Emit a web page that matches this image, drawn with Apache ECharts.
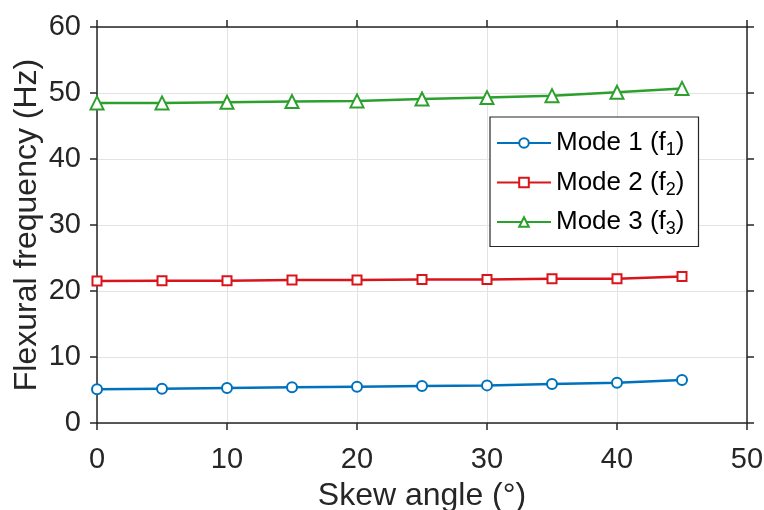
<!DOCTYPE html>
<html>
<head>
<meta charset="utf-8">
<script src="https://cdn.jsdelivr.net/npm/echarts@6/dist/echarts.min.js"></script>
<style>html,body{margin:0;padding:0;background:#fff}#c{width:764px;height:510px}</style>
</head>
<body>
<div id="c"></div>
<script>
const skewAngles = [0, 5, 10, 15, 20, 25, 30, 35, 40, 45];
const mode1 = [5.1, 5.2, 5.3, 5.4, 5.5, 5.6, 5.7, 5.9, 6.1, 6.5];
const mode2 = [21.5, 21.55, 21.55, 21.65, 21.65, 21.75, 21.75, 21.85, 21.85, 22.2];
const mode3 = [48.5, 48.5, 48.6, 48.7, 48.8, 49.1, 49.3, 49.6, 50.1, 50.7];
const seriesNames = ['Mode 1 (f1)', 'Mode 2 (f2)', 'Mode 3 (f3)'];
const xTicks = {min: 0, max: 50, interval: 10};
const yTicks = {min: 0, max: 60, interval: 10};

const FONT = 'Liberation Sans, Arial, sans-serif';
const AX = '#262626';
const colors = ['#0072BD', '#D9151B', '#2CA02C'];
const symbols = ['emptyCircle', 'emptyRect', 'emptyTriangle'];
const sizes = [10, 9, 13];
const datas = [mode1, mode2, mode3];

const chart = echarts.init(document.getElementById('c'));
const mkAxis = (t, extra) => Object.assign({
  type: 'value', min: t.min, max: t.max, interval: t.interval,
  axisLine: {show: true, onZero: false, lineStyle: {color: AX, width: 1.5}},
  axisTick: {show: true, inside: false, length: 7, lineStyle: {color: AX, width: 1.5}},
  axisLabel: {color: AX, fontSize: 29, fontFamily: FONT},
  splitLine: {show: false}
}, extra);

chart.setOption({
  animation: false,
  backgroundColor: '#fff',
  grid: {left: 97, right: 17, top: 27, bottom: 87, containLabel: false, outerBoundsMode: 'none'},
  legend: {
    orient: 'vertical', left: 490, top: 117,
    backgroundColor: '#fff', borderColor: AX, borderWidth: 1.2,
    padding: [13, 14, 8, 6], itemGap: 10, itemWidth: 54, itemHeight: 12,
    data: seriesNames,
    formatter: n => n.replace(/f(\d)\)/, 'f{sub|$1})'),
    textStyle: {fontSize: 26, fontFamily: FONT, color: '#000',
      rich: {sub: {fontSize: 18, fontFamily: FONT, color: '#000', padding: [15, 0, 0, 0]}}}
  },
  xAxis: [
    mkAxis(xTicks, {position: 'bottom', name: 'Skew angle (°)', nameLocation: 'middle', nameGap: 57,
      nameMoveOverlap: false,
      nameTextStyle: {fontSize: 32, fontFamily: FONT, color: AX},
      axisLabel: {color: AX, fontSize: 29, fontFamily: FONT, margin: 22},
      splitLine: {show: true, lineStyle: {color: '#e3e3e3', width: 1}}}),
    mkAxis(xTicks, {position: 'top', axisLabel: {show: false}})
  ],
  yAxis: [
    mkAxis(yTicks, {position: 'left', name: 'Flexural frequency (Hz)', nameLocation: 'middle', nameGap: 54,
      nameMoveOverlap: false,
      nameTextStyle: {fontSize: 32, fontFamily: FONT, color: AX},
      axisLabel: {color: AX, fontSize: 29, fontFamily: FONT, margin: 16},
      splitLine: {show: true, lineStyle: {color: '#e3e3e3', width: 1}}}),
    mkAxis(yTicks, {position: 'right', axisLabel: {show: false}})
  ],
  series: seriesNames.map((n, i) => ({
    name: n, type: 'line', xAxisIndex: 0, yAxisIndex: 0,
    data: skewAngles.map((x, j) => [x, datas[i][j]]),
    symbol: symbols[i], symbolSize: sizes[i],
    lineStyle: {color: colors[i], width: 2.5},
    itemStyle: {color: colors[i], borderColor: colors[i], borderWidth: 2.5},
    emphasis: {disabled: true}
  }))
});
</script>
</body>
</html>
